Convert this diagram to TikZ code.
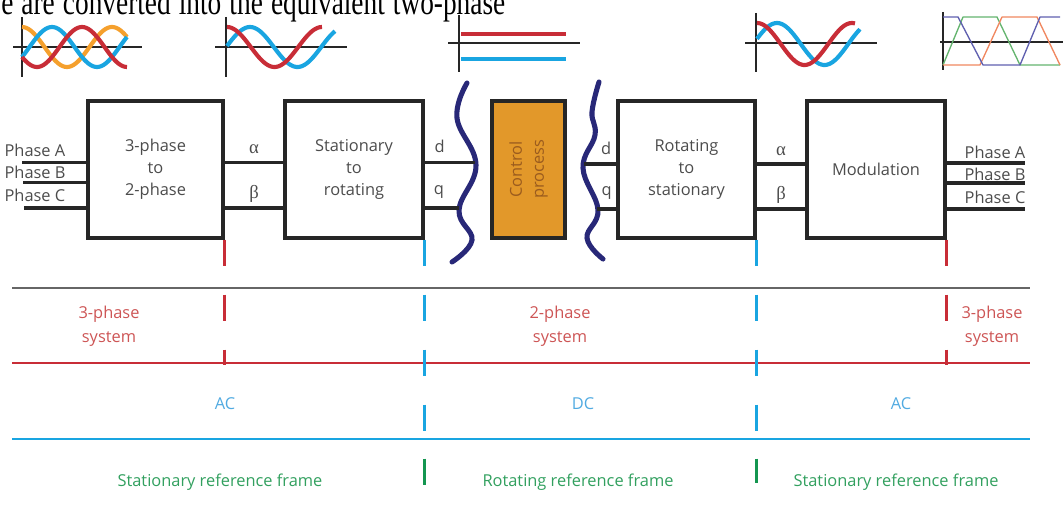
\documentclass[tikz,border=0pt]{standalone}
\usepackage{fontspec}
\setmainfont{Open Sans}
\newfontfamily\pageserif{Liberation Serif}
\usepackage{graphicx}
\usepackage{tikz}

\definecolor{phasered}{RGB}{200,45,55}
\definecolor{phaseblue}{RGB}{25,165,225}
\definecolor{phaseorange}{RGB}{245,160,45}
\definecolor{ctrlorange}{RGB}{226,152,42}
\definecolor{ctrltextc}{RGB}{155,92,30}
\definecolor{wavenavy}{RGB}{40,40,120}
\definecolor{lblred}{RGB}{205,85,85}
\definecolor{lblblue}{RGB}{80,170,225}
\definecolor{lblgreen}{RGB}{50,160,95}
\definecolor{tickgreen}{RGB}{20,150,80}
\definecolor{pwmgreen}{RGB}{100,180,110}
\definecolor{pwmblue}{RGB}{95,95,175}
\definecolor{pwmorange}{RGB}{240,135,95}

\begin{document}
\begin{tikzpicture}[x=0.75pt, y=-0.75pt,
  blockbox/.style={draw=black!85, line width=2.3pt, minimum width=103pt, minimum height=102.75pt,
    align=center, text=black!70, font=\fontsize{12.3}{16.5}\selectfont},
  ctrlbox/.style={draw=black!85, fill=ctrlorange, line width=2.3pt, minimum width=54.75pt, minimum height=102.75pt},
  wire/.style={line width=2.5pt, black!85},
  sig/.style={text=black!70, font=\fontsize{12.3}{14}\selectfont, inner sep=1pt},
  greek/.style={text=black!70, font=\pageserif\fontsize{14}{14}\selectfont, inner sep=1pt},
  wavy/.style={line width=3.8pt, wavenavy, line cap=round},
  axis/.style={line width=1.6pt, black!85},
  curve/.style={line width=3.1pt},
  pwm/.style={line width=1pt, line join=round},
  lbl/.style={align=center, font=\fontsize{12.3}{18}\selectfont},
  tick/.style={line width=1.7pt, dash pattern=on 19.5pt off 21.75pt}]
  \useasboundingbox (0,0) rectangle (1063,506);

  % page text cut at the top
  \node[anchor=base west, inner sep=0, font=\pageserif\fontsize{20.5}{24}\selectfont] (pagetext) at (1,15)
    {\scalebox{1}[1.3]{\makebox[378pt][s]{e are converted into the equivalent two-phase}}};

  % small waveforms
  \draw[axis] (22,17)--(22,77);
  \draw[axis] (13,47)--(142,47);
  \draw[curve,phaseorange] plot[domain=22:127,samples=60,smooth] (\x,{47-20*cos(4*(\x-22))});
  \draw[curve,phaseblue] plot[domain=22:127,samples=60,smooth] (\x,{47-20*cos(4*(\x-52))});
  \draw[curve,phasered] plot[domain=22:127,samples=60,smooth] (\x,{47-20*cos(4*(\x-82))});

  \draw[axis] (226,17)--(226,77);
  \draw[axis] (215,47)--(347,47);
  \draw[curve,phaseblue] plot[domain=227:335,samples=60,smooth] (\x,{47-20*cos(3.79*(\x-250))});
  \draw[curve,phasered] plot[domain=227:322,samples=60,smooth] (\x,{47-20*cos(3.79*(\x-227))});

  \draw[axis] (459,15)--(459,72);
  \draw[axis] (448,43)--(580,43);
  \draw[curve,phasered] (461,34)--(566,34);
  \draw[curve,phaseblue] (461,59)--(566,59);

  \draw[axis] (756,13)--(756,72);
  \draw[axis] (745,43)--(877,43);
  \draw[curve,phaseblue] plot[domain=757:860,samples=60,smooth] (\x,{44-21*cos(3.79*(\x-777))});
  \draw[curve,phasered] plot[domain=757:855,samples=60,smooth] (\x,{44-21*cos(3.79*(\x-757))});

  \draw[axis] (943,12)--(943,70);
  \draw[axis] (940,42)--(1063,42);
  \draw[pwm,pwmgreen] (943,65)--(963,17)--(997,17)--(1020,65)--(1060,65);
  \draw[pwm,pwmorange] (943,65)--(980,65)--(1002,17)--(1037,17)--(1060,65);
  \draw[pwm,pwmblue] (943,17)--(958,17)--(983,65)--(1020,65)--(1040,17)--(1060,17);

  % blocks
  \node[blockbox, minimum width=101.25pt] (threetwo) at (155.5,169.5) {3-phase\\to\\2-phase};
  \node[blockbox, minimum width=103.5pt] (statrot) at (354,169.5) {Stationary\\to\\rotating};
  \node[ctrlbox] (ctrl) at (528.5,169.5) {};
  \node[rotate=90, align=center, text=ctrltextc, font=\fontsize{12.3}{16.5}\selectfont] (ctrltext) at (ctrl.center) {Control\\process};
  \node[blockbox, minimum width=102.75pt] (rotstat) at (686.5,169.5) {Rotating\\to\\stationary};
  \node[blockbox, minimum width=103.5pt] (modul) at (876,169.5) {Modulation};

  % wavy cuts
  \draw[wavy] plot[smooth,tension=0.7] coordinates {(467,83) (457,118) (476,165) (459,210) (472,240) (452,262)};
  \draw[wavy] plot[smooth,tension=0.7] coordinates {(599,82) (592,112) (595,135) (583,168) (598,210) (587,238) (603,259)};
  \coordinate (lwd) at (475,162.5);
  \coordinate (lwq) at (459,208);
  \coordinate (rwd) at (584,164);
  \coordinate (rwq) at (597,209);

  % inputs and outputs
  \coordinate (ina) at (22,162.5);
  \coordinate (inb) at (23,182.5);
  \coordinate (inc) at (24,208);
  \coordinate (outa) at (1025,163);
  \coordinate (outb) at (1025,183);
  \coordinate (outc) at (1025,209);
  \draw[wire] (ina) -- (threetwo.west |- ina);
  \draw[wire] (inb) -- (threetwo.west |- inb);
  \draw[wire] (inc) -- (threetwo.west |- inc);
  \node[sig, anchor=west] (ina-l) at (3,150) {Phase A};
  \node[sig, anchor=west] (inb-l) at (3,172) {Phase B};
  \node[sig, anchor=west] (inc-l) at (3,195) {Phase C};
  \draw[wire] (modul.east |- outa) -- (outa);
  \draw[wire] (modul.east |- outb) -- (outb);
  \draw[wire] (modul.east |- outc) -- (outc);
  \node[sig] (outa-l) at (995,152) {Phase A};
  \node[sig] (outb-l) at (995,174) {Phase B};
  \node[sig] (outc-l) at (995,197) {Phase C};

  % signals between blocks
  \draw[wire] (threetwo.east |- lwd) -- node[greek, above=4pt] (al1) {α} (statrot.west |- lwd);
  \draw[wire] (threetwo.east |- lwq) -- node[greek, above=2pt] (be1) {β} (statrot.west |- lwq);
  \draw[wire] (statrot.east |- lwd) -- node[sig, above=5pt, pos=0.3] (d1) {d} (lwd);
  \draw[wire] (statrot.east |- lwq) -- node[sig, above=5pt, pos=0.42] (q1) {q} (lwq);
  \draw[wire] (rwd) -- node[sig, above=5pt, pos=0.68] (d2) {d} (rotstat.west |- rwd);
  \draw[wire] (rwq) -- node[sig, above=5pt, pos=0.5] (q2) {q} (rotstat.west |- rwq);
  \draw[wire] (rotstat.east |- rwd) -- node[greek, above=4pt] (al2) {α} (modul.west |- rwd);
  \draw[wire] (rotstat.east |- rwq) -- node[greek, above=2pt] (be2) {β} (modul.west |- rwq);

  % lower bands
  \draw[line width=1.4pt, black!60] (12,288)--(1030,288);
  \draw[line width=2pt, phasered] (12,363)--(1030,363);
  \draw[line width=2.2pt, phaseblue] (12,439)--(1030,439);
  \draw[tick, phasered] (threetwo.south east) -- ++(0,125);
  \draw[tick, phaseblue] (statrot.south east) -- ++(0,191);
  \draw[tick, phaseblue] (rotstat.south east) -- ++(0,191);
  \draw[tick, phasered] (modul.south east) -- ++(0,125);
  \draw[line width=1.7pt, tickgreen] (statrot.south east) ++(0,219) -- ++(0,26);
  \draw[line width=1.7pt, tickgreen] (rotstat.south east) ++(0,219) -- ++(0,24);

  \node[lbl, text=lblred] (sys1) at (109,326) {3-phase\\system};
  \node[lbl, text=lblred] (sys2) at (560,326) {2-phase\\system};
  \node[lbl, text=lblred] (sys3) at (992,326) {3-phase\\system};
  \node[lbl, text=lblblue] (ac1) at (225,404) {AC};
  \node[lbl, text=lblblue] (dc) at (583,404) {DC};
  \node[lbl, text=lblblue] (ac2) at (901,404) {AC};
  \node[lbl, text=lblgreen] (fr1) at (220,482) {Stationary reference frame};
  \node[lbl, text=lblgreen] (fr2) at (578,482) {Rotating reference frame};
  \node[lbl, text=lblgreen] (fr3) at (896,482) {Stationary reference frame};
\end{tikzpicture}
\end{document}
